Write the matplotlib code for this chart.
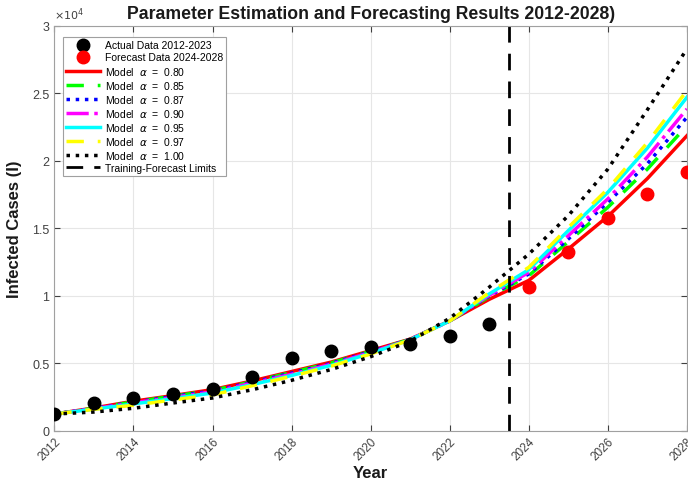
import matplotlib
matplotlib.use("Agg")
import matplotlib.pyplot as plt
from matplotlib.ticker import FuncFormatter

plt.rcParams['font.family'] = ['Liberation Sans', 'DejaVu Sans']

# Observed data
actual_years = list(range(2012, 2024))
actual_cases = [1260, 2050, 2440, 2710, 3140, 4000, 5400, 5950, 6200, 6420, 7010, 7930]

forecast_years = list(range(2024, 2029))
forecast_cases = [10690, 13230, 15780, 17550, 19200]

# Model curves
model_years = list(range(2012, 2029))
model_080 = [1250, 1700, 2200, 2620, 3060, 3700, 4400, 5100, 5950, 6800, 8150,
             9750, 11150, 13480, 15900, 18700, 21870]
model_085 = [1250, 1680, 2150, 2570, 3000, 3640, 4330, 5040, 5900, 6780, 8150,
             9950, 11500, 14020, 16570, 19400, 22610]
model_087 = [1250, 1670, 2120, 2540, 2960, 3600, 4280, 5000, 5870, 6780, 8150,
             10000, 11630, 14220, 16940, 19800, 23240]
model_090 = [1250, 1650, 2080, 2480, 2900, 3540, 4200, 4940, 5820, 6770, 8150,
             10050, 11750, 14470, 17190, 20300, 23850]
model_095 = [1250, 1620, 2000, 2400, 2810, 3430, 4110, 4860, 5750, 6760, 8150,
             10150, 11950, 14840, 17680, 20960, 24720]
model_097 = [1250, 1600, 1900, 2300, 2670, 3350, 4050, 4800, 5700, 6750, 8150,
             10250, 12120, 15080, 17930, 21360, 25210]
model_100 = [1250, 1400, 1680, 2070, 2440, 3050, 3750, 4550, 5500, 6650, 8350,
             10650, 13100, 15950, 19400, 23800, 28300]

split_year = 2023.5

fig, ax = plt.subplots(figsize=(6.88, 4.81), dpi=100)
fig.subplots_adjust(left=0.079, right=0.9985, top=0.944, bottom=0.102)

ax.plot(actual_years, actual_cases, 'o', color='black', markersize=9,
        label='Actual Data 2012-2023', zorder=5)
ax.plot(forecast_years, forecast_cases, 'o', color='red', markersize=9,
        label='Forecast Data 2024-2028', zorder=5)

ax.plot(model_years, model_080, '-', color='red', lw=2.5,
        label=r'Model  $\alpha$  =  0.80')
ax.plot(model_years, model_085, '--', color='#00ff00', lw=2.5, dashes=(5, 4),
        label=r'Model  $\alpha$  =  0.85')
ax.plot(model_years, model_087, ':', color='blue', lw=2.5,
        label=r'Model  $\alpha$  =  0.87')
ax.plot(model_years, model_090, '-.', color='magenta', lw=2.5,
        label=r'Model  $\alpha$  =  0.90')
ax.plot(model_years, model_095, '-', color='cyan', lw=2.5,
        label=r'Model  $\alpha$  =  0.95')
ax.plot(model_years, model_097, '--', color='yellow', lw=2.5, dashes=(5, 4),
        label=r'Model  $\alpha$  =  0.97')
ax.plot(model_years, model_100, ':', color='black', lw=2.5,
        label=r'Model  $\alpha$  =  1.00')
ax.axvline(split_year, color='black', lw=2, linestyle='--', dashes=(6, 4),
           label='Training-Forecast Limits')

ax.set_xlim(2012, 2028)
ax.set_ylim(0, 30000)
ax.set_xticks(range(2012, 2029, 2))
ax.set_yticks(range(0, 30001, 5000))
ax.yaxis.set_major_formatter(FuncFormatter(lambda v, p: '%g' % (v / 1e4)))

ax.grid(True, color='#e6e6e6', lw=0.8)
ax.set_axisbelow(True)
ax.tick_params(direction='in', top=True, right=True, labelsize=9,
               colors='#404040', length=4)
ax.tick_params(axis='x', labelsize=8.5, pad=3)
plt.setp(ax.get_xticklabels(), rotation=45, ha='right', rotation_mode='anchor')
for s in ax.spines.values():
    s.set_color('#a0a0a0')

ax.text(0.0, 1.01, r'$\times10^4$', transform=ax.transAxes, fontsize=8,
        color='#404040', va='bottom', ha='left')

ax.set_title('Parameter Estimation and Forecasting Results 2012-2028)',
             fontsize=12.7, fontweight='bold', color='#1a1a1a', pad=6)
ax.set_xlabel('Year', fontsize=12, fontweight='bold', color='#1a1a1a', labelpad=2)
ax.set_ylabel('Infected Cases (I)', fontsize=12, fontweight='bold',
              color='#1a1a1a')
ax.yaxis.set_label_coords(-0.051, 0.5)

leg = ax.legend(loc='upper left', fontsize=7.5, handlelength=3.2,
                labelspacing=0.2, borderpad=0.3, handletextpad=0.5,
                fancybox=False, framealpha=1, bbox_to_anchor=(0.006, 0.985))
leg.get_frame().set_edgecolor('#a0a0a0')
leg.get_frame().set_linewidth(0.8)

fig.savefig('out.png', dpi=100)
